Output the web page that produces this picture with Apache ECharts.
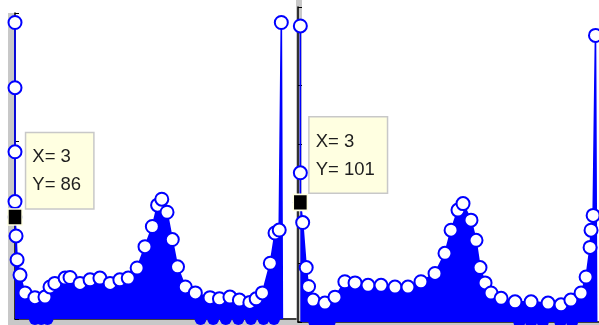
<!DOCTYPE html>
<html>
<head>
<meta charset="utf-8">
<script src="https://cdn.jsdelivr.net/npm/echarts@6/dist/echarts.min.js"></script>
<style>
html,body{margin:0;padding:0;background:#fff;}
#chart{width:599px;height:325px;}
</style>
</head>
<body>
<div id="chart"></div>
<script>
// ---- data ----
const leftX = [3,3,3,3,3,4,5,7.8,12.5,22,31.6,36.4,41,50.8,55.5,65,74.6,84,93.7,103,111,119.5,127,134,139,143,148,153,158,165.4,175,189,198,208,217,227,233,239,246.5,251,255,257,258];
const leftY = [250,195,141,99,86,70,50,37,22,18,18.5,27,30,34.5,35,30,33,34.5,30,33,34.5,43,61,78,96,101,90,67,44,27,22,18,17,18.5,16,14,17,22,47,72.5,75,250,0];
const rightX = [3,3,3,5,8,10,13.8,24,32.6,41,49.7,60.8,71.9,83.8,94.9,106,118,126.5,131.7,137.6,141.9,148.7,153,156.4,160.7,165.8,174.4,186.3,200,214.5,225.6,234,242.7,247,250.4,251.2,253,255,256];
const rightY = [250,126,101,84,46,30,18.5,16,21,34,33,31,31,29.5,29.5,34,41,58,77.5,94.5,100,86,69,46,33,24.5,20,17,17,16,14.5,18.5,24.5,38,63,77.5,90,242,0];
const leftZeroX = [22,28,34,180,192,204,216,228,240,250];
const rightZeroX = [15,22,28,190,200,210,225,235];
const leftTip = [3, 86];
const rightTip = [3, 101];

const BLUE = '#0000ff';
const GREY = '#c8c8c8';

function zip(xs, ys){ return xs.map((x,i)=>[x, ys[i]]); }

const chart = echarts.init(document.getElementById('chart'), null, {renderer:'canvas'});

function envelopeSeries(idx, xs, ys){
  return {
    type:'line', xAxisIndex:idx, yAxisIndex:idx,
    data: zip(xs, ys).map((p,i,arr)=> i===arr.length-1 ? {value:p, symbol:'none'} : p),
    symbol:'emptyCircle', symbolSize:13, showAllSymbol:true,
    lineStyle:{color:BLUE, width:1.6},
    itemStyle:{color:BLUE, borderColor:BLUE, borderWidth:1.4, opacity:1},
    areaStyle:{color:BLUE, opacity:1},
    z:3, clip:false
  };
}
function zeroSeries(idx, xs){
  return {
    type:'scatter', xAxisIndex:idx, yAxisIndex:idx,
    data: xs.map(x=>[x,0]),
    symbol:'circle', symbolSize:12,
    itemStyle:{color:BLUE, opacity:1},
    z:2, clip:false
  };
}
function tipSeries(idx, tip, pos){
  return {
    type:'scatter', xAxisIndex:idx, yAxisIndex:idx,
    data:[tip], symbol:'rect', symbolSize:[14,16],
    itemStyle:{color:'#000', borderColor:'#ffffe1', borderWidth:1.5, opacity:1},
    z:10, clip:false,
    label:{
      show:true, position:pos,
      formatter: p => 'X= ' + p.value[0] + '\nY= ' + p.value[1],
      fontFamily:'Liberation Sans, Arial, sans-serif', fontSize:18.5, lineHeight:28,
      color:'#1e1e1e', backgroundColor:'#ffffe1', borderColor:'#c8c8c8', borderWidth:1.5,
      padding:[10,12,9,6], align:'left', verticalAlign:'top'
    }
  };
}

const axisCommon = {
  axisLabel:{show:false}, splitLine:{show:false},
};

chart.setOption({
  animation:false,
  backgroundColor:'#fff',
  graphic:[
    {type:'rect', shape:{x:8, y:13, width:7, height:312}, style:{fill:GREY}, z:-1, silent:true},
    {type:'rect', shape:{x:8, y:320, width:288, height:5}, style:{fill:GREY}, z:-1, silent:true},
    {type:'rect', shape:{x:296, y:0, width:6, height:325}, style:{fill:GREY}, z:-1, silent:true},
    {type:'rect', shape:{x:296, y:323, width:303, height:2}, style:{fill:GREY}, z:-1, silent:true}
  ],
  grid:[
    {left:15, top:13, width:281, height:306, show:false},
    {left:298, top:7, width:301, height:315, show:false}
  ],
  xAxis:[
    Object.assign({type:'value', gridIndex:0, min:3, max:271,
      axisLine:{show:true, onZero:false, lineStyle:{color:'#000', width:1.5}}, axisTick:{show:false}}, axisCommon),
    Object.assign({type:'value', gridIndex:1, min:1, max:258,
      axisLine:{show:true, onZero:false, lineStyle:{color:'#000', width:1.5}}, axisTick:{show:false}}, axisCommon)
  ],
  yAxis:[
    Object.assign({type:'value', gridIndex:0, min:0, max:258, interval:50,
      axisLine:{show:true, onZero:false, lineStyle:{color:'#000', width:1.5}},
      axisTick:{show:true, inside:true, length:4, lineStyle:{color:'#000'}}}, axisCommon),
    Object.assign({type:'value', gridIndex:1, min:0, max:266, interval:50,
      axisLine:{show:true, onZero:false, lineStyle:{color:'#000', width:1.5}},
      axisTick:{show:true, inside:true, length:4, lineStyle:{color:'#000'}}}, axisCommon)
  ],
  series:[
    zeroSeries(0, leftZeroX),
    zeroSeries(1, rightZeroX),
    envelopeSeries(0, leftX, leftY),
    envelopeSeries(1, rightX, rightY),
    tipSeries(0, leftTip, [19,-75]),
    tipSeries(1, rightTip, [17,-76])
  ]
});
</script>
</body>
</html>
